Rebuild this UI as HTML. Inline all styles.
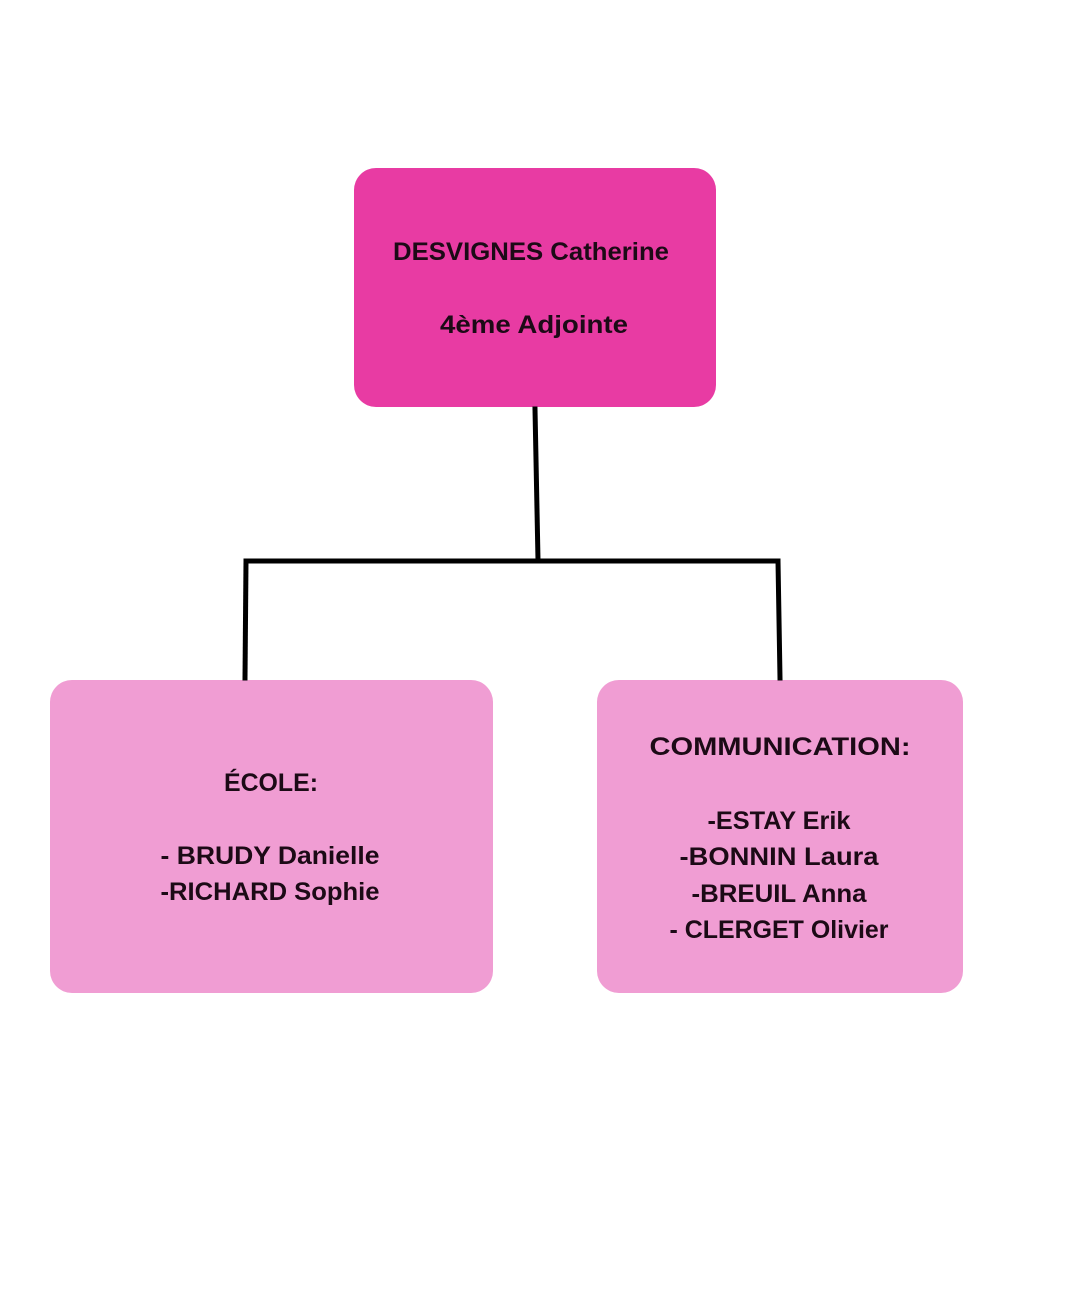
<!DOCTYPE html>
<html><head><meta charset="utf-8"><style>
html,body{margin:0;padding:0;background:#fff;width:1088px;height:1290px;overflow:hidden}
svg{display:block}
text{font-family:"Liberation Sans",sans-serif;font-weight:bold;font-size:25px;fill:#1c0a16;text-anchor:middle}
</style></head><body>
<svg width="1088" height="1290" viewBox="0 0 1088 1290">
<rect x="0" y="0" width="1088" height="1290" fill="#fff"/>
<rect x="354" y="168" width="362" height="239" rx="22" fill="#e83ba3"/>
<rect x="50" y="680" width="443" height="313" rx="22" fill="#f09dd3"/>
<rect x="597" y="680" width="366" height="313" rx="22" fill="#f09dd3"/>
<g stroke="#000" stroke-width="5" fill="none" stroke-linecap="square">
<line x1="535" y1="409" x2="538" y2="560"/>
<line x1="246" y1="561" x2="778" y2="561"/>
<line x1="246" y1="561" x2="245" y2="678"/>
<line x1="778" y1="561" x2="780" y2="678"/>
</g>
<text x="531" y="260" textLength="276" lengthAdjust="spacingAndGlyphs">DESVIGNES Catherine</text>
<text x="534" y="333" textLength="188" lengthAdjust="spacingAndGlyphs">4ème Adjointe</text>
<text x="271" y="791" textLength="94" lengthAdjust="spacingAndGlyphs">ÉCOLE:</text>
<text x="270" y="864" textLength="219" lengthAdjust="spacingAndGlyphs">- BRUDY Danielle</text>
<text x="270" y="900" textLength="219" lengthAdjust="spacingAndGlyphs">-RICHARD Sophie</text>
<text x="780" y="755" textLength="261" lengthAdjust="spacingAndGlyphs">COMMUNICATION:</text>
<text x="779" y="829" textLength="143" lengthAdjust="spacingAndGlyphs">-ESTAY Erik</text>
<text x="779" y="865" textLength="199" lengthAdjust="spacingAndGlyphs">-BONNIN Laura</text>
<text x="779" y="902" textLength="175" lengthAdjust="spacingAndGlyphs">-BREUIL Anna</text>
<text x="779" y="938" textLength="219" lengthAdjust="spacingAndGlyphs">- CLERGET Olivier</text>
</svg>
</body></html>
